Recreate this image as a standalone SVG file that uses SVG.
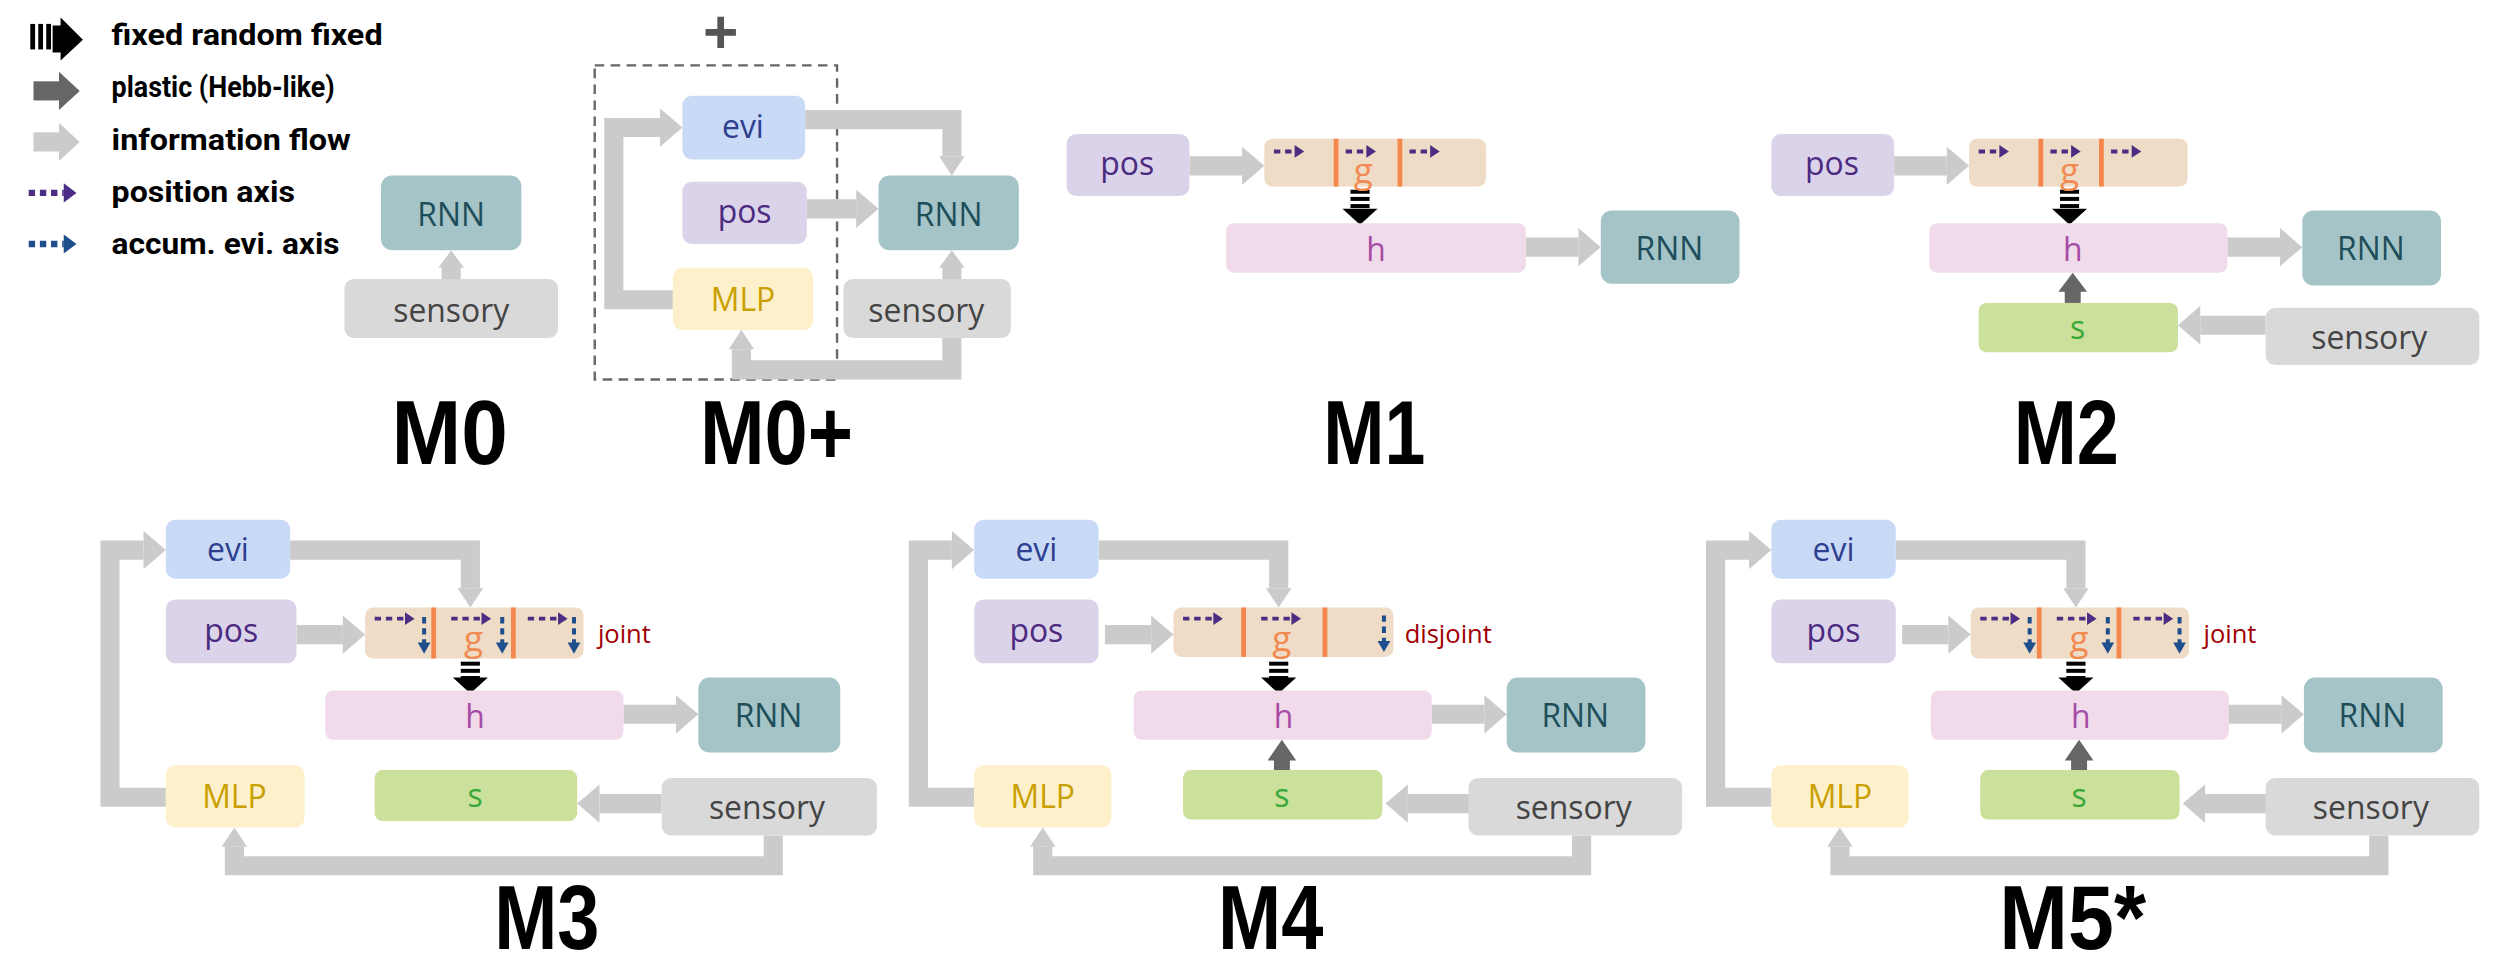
<svg xmlns="http://www.w3.org/2000/svg" width="2500" height="966" viewBox="0 0 2500 966">
<defs>
<style>
.nt{font-family:"Open Sans","Liberation Sans",sans-serif;font-size:20px;text-anchor:middle;dominant-baseline:central}
.gt{font-size:22px}
.lg{font-family:"Roboto","Liberation Sans",sans-serif;font-weight:bold;font-size:18px}
.big{font-family:"Liberation Sans",sans-serif;font-weight:bold;font-size:57px;text-anchor:middle}
.fl{fill:none;stroke:#cbcbcb;stroke-width:12}
.fh{fill:#cbcbcb}
.pl{fill:none;stroke:#666;stroke-width:10}
.ph{fill:#666}
.pa{stroke:#4b2e83;stroke-width:2.5;stroke-dasharray:4 3;fill:none}
.pah{fill:#4b2e83}
.ba{stroke:#1f4e8c;stroke-width:2.5;stroke-dasharray:4 3;fill:none}
.bah{fill:#1f4e8c}
.div{stroke:#f4874b;stroke-width:3}
.lab{font-family:"Open Sans","Liberation Sans",sans-serif;font-size:16px;fill:#a00000;dominant-baseline:central}
</style>
</defs>
<rect width="2500" height="966" fill="#fff"/>
<g transform="scale(1.5944)">
<g id="legend">
<rect x="19" y="15" width="3" height="16" fill="#000"/><rect x="24" y="15" width="3" height="16" fill="#000"/><rect x="29" y="15" width="3" height="16" fill="#000"/>
<polygon points="33,16 38,16 38,11 52,25 38,38 38,33 33,33" fill="#000"/>
<rect x="21" y="51" width="16" height="12" fill="#666"/><polygon points="37,45 50,57 37,69" fill="#666"/>
<rect x="21" y="83" width="16" height="12" fill="#cbcbcb"/><polygon points="37,77 50,89 37,101" fill="#cbcbcb"/>
<line x1="18" y1="121" x2="40" y2="121" stroke="#4b2e83" stroke-width="4" stroke-dasharray="4 3"/><polygon points="40,115 48,121 40,127" fill="#4b2e83"/>
<line x1="18" y1="153" x2="40" y2="153" stroke="#1f4e8c" stroke-width="4" stroke-dasharray="4 3"/><polygon points="40,147 48,153 40,159" fill="#1f4e8c"/>
<text class="lg" x="70" y="28" textLength="170" lengthAdjust="spacingAndGlyphs">fixed random fixed</text>
<text class="lg" x="70" y="61" textLength="140" lengthAdjust="spacingAndGlyphs">plastic (Hebb-like)</text>
<text class="lg" x="70" y="94" textLength="150" lengthAdjust="spacingAndGlyphs">information flow</text>
<text class="lg" x="70" y="127" textLength="115" lengthAdjust="spacingAndGlyphs">position axis</text>
<text class="lg" x="70" y="159" textLength="143" lengthAdjust="spacingAndGlyphs">accum. evi. axis</text>
</g>

<!-- M0 -->
<g id="m0">
<g id="m0-conn"><path class="fl" d="M283,175 V167"/><polygon class="fh" points="275,168 283,157 291,168"/></g>
<g id="m0-rnn"><rect x="239" y="110" width="88" height="47" rx="7" fill="#a5c4c7"/><text class="nt" x="283" y="134" fill="#1d4e5a">RNN</text></g>
<g id="m0-sensory"><rect x="216" y="175" width="134" height="37" rx="6" fill="#d9d9d9"/><text class="nt" x="283" y="194" fill="#444">sensory</text></g>
<text class="big" x="282" y="291" textLength="73" lengthAdjust="spacingAndGlyphs">M0</text>
</g>

<!-- M0+ -->
<g id="m0plus">
<text x="452" y="33" font-family="Liberation Sans,sans-serif" font-weight="bold" font-size="38" fill="#555" text-anchor="middle">+</text>
<rect x="373" y="41" width="152" height="197" fill="none" stroke="#666" stroke-width="1.5" stroke-dasharray="6 4"/>
<g id="m0p-conn">
<path class="fl" d="M505,75 H597 V98"/><polygon class="fh" points="589,98 597,110 605,98"/>
<path class="fl" d="M506,131 H537"/><polygon class="fh" points="537,119 551,131 537,143"/>
<path class="fl" d="M422,188 H385 V80 H414"/><polygon class="fh" points="414,68 428,80 414,92"/>
<path class="fl" d="M597,212 V232 H465 V219"/><polygon class="fh" points="457,219 465,207 473,219"/>
<path class="fl" d="M597,175 V167"/><polygon class="fh" points="589,168 597,157 605,168"/>
</g>
<g id="m0p-evi"><rect x="428" y="60" width="77" height="40" rx="6" fill="#c9daf7"/><text class="nt" x="466" y="79" fill="#2e3f8f">evi</text></g>
<g id="m0p-pos"><rect x="428" y="114" width="78" height="39" rx="6" fill="#dbd3e9"/><text class="nt" x="467" y="132" fill="#4b2a7f">pos</text></g>
<g id="m0p-mlp"><rect x="422" y="168" width="88" height="39" rx="6" fill="#fff0cc"/><text class="nt" x="466" y="187" fill="#c9a000">MLP</text></g>
<g id="m0p-rnn"><rect x="551" y="110" width="88" height="47" rx="7" fill="#a5c4c7"/><text class="nt" x="595" y="134" fill="#1d4e5a">RNN</text></g>
<g id="m0p-sensory"><rect x="529" y="175" width="105" height="37" rx="6" fill="#d9d9d9"/><text class="nt" x="581" y="194" fill="#444">sensory</text></g>
<text class="big" x="487" y="291" textLength="96" lengthAdjust="spacingAndGlyphs">M0+</text>
</g>

<!-- M1 -->
<g id="m1">
<g id="m1-conn">
<path class="fl" d="M746,104 H779"/><polygon class="fh" points="779,92 793,104 779,116"/>
<path class="fl" d="M957,155 H990"/><polygon class="fh" points="990,143 1004,155 990,167"/>
<rect x="847" y="119" width="12" height="2.5"/><rect x="847" y="123.5" width="12" height="2.5"/><rect x="847" y="128" width="12" height="2.5"/><polygon points="842,131 864,131 853,141"/>
</g>
<g id="m1-pos"><rect x="669" y="84" width="77" height="39" rx="6" fill="#dbd3e9"/><text class="nt" x="707" y="102" fill="#4b2a7f">pos</text></g>
<g id="m1-g"><rect x="793" y="87" width="139" height="30" rx="5" fill="#efdcc6"/><line class="div" x1="838" y1="87" x2="838" y2="117"/><line class="div" x1="878" y1="87" x2="878" y2="117"/><text class="nt gt" x="855" y="106" fill="#f08a50">g</text>
<path class="pa" d="M799,95 H813"/><polygon class="pah" points="812,91 818,95 812,99"/>
<path class="pa" d="M844,95 H858"/><polygon class="pah" points="857,91 863,95 857,99"/>
<path class="pa" d="M884,95 H898"/><polygon class="pah" points="897,91 903,95 897,99"/></g>
<g id="m1-h"><rect x="769" y="140" width="188" height="31" rx="5" fill="#f1dbea"/><text class="nt" x="863" y="156" fill="#a64ca6">h</text></g>
<g id="m1-rnn"><rect x="1004" y="132" width="87" height="46" rx="7" fill="#a5c4c7"/><text class="nt" x="1047" y="155" fill="#1d4e5a">RNN</text></g>
<text class="big" x="862" y="291" textLength="64" lengthAdjust="spacingAndGlyphs">M1</text>
</g>

<!-- M2 -->
<g id="m2">
<g id="m2-conn">
<path class="fl" d="M1188,104 H1221"/><polygon class="fh" points="1221,92 1235,104 1221,116"/>
<path class="fl" d="M1397,155 H1430"/><polygon class="fh" points="1430,143 1444,155 1430,167"/>
<rect x="1292" y="119" width="12" height="2.5"/><rect x="1292" y="123.5" width="12" height="2.5"/><rect x="1292" y="128" width="12" height="2.5"/><polygon points="1287,131 1309,131 1298,141"/>
<path class="fl" d="M1421,204 H1380"/><polygon class="fh" points="1380,192 1366,204 1380,216"/>
<path class="pl" d="M1300,190 V182"/><polygon class="ph" points="1291,183 1300,171 1309,183"/>
</g>
<g id="m2-pos"><rect x="1111" y="84" width="77" height="39" rx="6" fill="#dbd3e9"/><text class="nt" x="1149" y="102" fill="#4b2a7f">pos</text></g>
<g id="m2-g"><rect x="1235" y="87" width="137" height="30" rx="5" fill="#efdcc6"/><line class="div" x1="1280" y1="87" x2="1280" y2="117"/><line class="div" x1="1318" y1="87" x2="1318" y2="117"/><text class="nt gt" x="1298" y="106" fill="#f08a50">g</text>
<path class="pa" d="M1241,95 H1255"/><polygon class="pah" points="1254,91 1260,95 1254,99"/>
<path class="pa" d="M1286,95 H1300"/><polygon class="pah" points="1299,91 1305,95 1299,99"/>
<path class="pa" d="M1324,95 H1338"/><polygon class="pah" points="1337,91 1343,95 1337,99"/></g>
<g id="m2-h"><rect x="1210" y="140" width="187" height="31" rx="5" fill="#f1dbea"/><text class="nt" x="1300" y="156" fill="#a64ca6">h</text></g>
<g id="m2-rnn"><rect x="1444" y="132" width="87" height="47" rx="7" fill="#a5c4c7"/><text class="nt" x="1487" y="155" fill="#1d4e5a">RNN</text></g>
<g id="m2-s"><rect x="1241" y="190" width="125" height="31" rx="5" fill="#cbe09b"/><text class="nt" x="1303" y="205" fill="#3aa83a">s</text></g>
<g id="m2-sensory"><rect x="1421" y="193" width="134" height="36" rx="6" fill="#d9d9d9"/><text class="nt" x="1486" y="211" fill="#444">sensory</text></g>
<text class="big" x="1296" y="291" textLength="66" lengthAdjust="spacingAndGlyphs">M2</text>
</g>

<!-- M3 -->
<g id="m3">
<g id="m3-conn">
<path class="fl" d="M182,345 H295 V369"/><polygon class="fh" points="287,369 295,381 303,369"/>
<path class="fl" d="M104,500 H69 V345 H90"/><polygon class="fh" points="90,333 104,345 90,357"/>
<path class="fl" d="M485,524 V543 H147 V531"/><polygon class="fh" points="139,531 147,519 155,531"/>
<path class="fl" d="M186,398 H215"/><polygon class="fh" points="215,386 229,398 215,410"/>
<path class="fl" d="M391,448 H424"/><polygon class="fh" points="424,436 438,448 424,460"/>
<path class="fl" d="M415,504 H376"/><polygon class="fh" points="376,492 362,504 376,516"/>
<rect x="289" y="415" width="12" height="2.5"/><rect x="289" y="419.5" width="12" height="2.5"/><rect x="289" y="424" width="12" height="2.5"/><polygon points="284,425 306,425 295,435"/>
</g>
<g id="m3-evi"><rect x="104" y="326" width="78" height="37" rx="6" fill="#c9daf7"/><text class="nt" x="143" y="344" fill="#2e3f8f">evi</text></g>
<g id="m3-pos"><rect x="104" y="376" width="82" height="40" rx="6" fill="#dbd3e9"/><text class="nt" x="145" y="395" fill="#4b2a7f">pos</text></g>
<g id="m3-g"><rect x="229" y="381" width="137" height="32" rx="5" fill="#efdcc6"/><line class="div" x1="272" y1="381" x2="272" y2="413"/><line class="div" x1="322" y1="381" x2="322" y2="413"/><text class="nt gt" x="297" y="400" fill="#f08a50">g</text>
<path class="pa" d="M235,388 H255"/><polygon class="pah" points="254,384 260,388 254,392"/>
<path class="pa" d="M283,388 H303"/><polygon class="pah" points="302,384 308,388 302,392"/>
<path class="pa" d="M331,388 H351"/><polygon class="pah" points="350,384 356,388 350,392"/>
<path class="ba" d="M266,387 V404"/><polygon class="bah" points="262,403 266,410 270,403"/>
<path class="ba" d="M315,387 V404"/><polygon class="bah" points="311,403 315,410 319,403"/>
<path class="ba" d="M360,387 V404"/><polygon class="bah" points="356,403 360,410 364,403"/></g>
<text class="lab" x="375" y="397">joint</text>
<g id="m3-h"><rect x="204" y="433" width="187" height="31" rx="5" fill="#f1dbea"/><text class="nt" x="298" y="449" fill="#a64ca6">h</text></g>
<g id="m3-rnn"><rect x="438" y="425" width="89" height="47" rx="7" fill="#a5c4c7"/><text class="nt" x="482" y="448" fill="#1d4e5a">RNN</text></g>
<g id="m3-mlp"><rect x="104" y="480" width="87" height="39" rx="6" fill="#fff0cc"/><text class="nt" x="147" y="499" fill="#c9a000">MLP</text></g>
<g id="m3-s"><rect x="235" y="483" width="127" height="32" rx="5" fill="#cbe09b"/><text class="nt" x="298" y="498" fill="#3aa83a">s</text></g>
<g id="m3-sensory"><rect x="415" y="488" width="135" height="36" rx="6" fill="#d9d9d9"/><text class="nt" x="481" y="506" fill="#444">sensory</text></g>
<text class="big" x="343" y="595" textLength="66" lengthAdjust="spacingAndGlyphs">M3</text>
</g>

<!-- M4 -->
<g id="m4" transform="translate(507,0)">
<g id="m4-conn">
<path class="fl" d="M182,345 H295 V369"/><polygon class="fh" points="287,369 295,381 303,369"/>
<path class="fl" d="M104,500 H69 V345 H90"/><polygon class="fh" points="90,333 104,345 90,357"/>
<path class="fl" d="M485,524 V543 H147 V531"/><polygon class="fh" points="139,531 147,519 155,531"/>
<path class="fl" d="M186,398 H215"/><polygon class="fh" points="215,386 229,398 215,410"/>
<path class="fl" d="M391,448 H424"/><polygon class="fh" points="424,436 438,448 424,460"/>
<path class="fl" d="M415,504 H376"/><polygon class="fh" points="376,492 362,504 376,516"/>
<rect x="289" y="415" width="12" height="2.5"/><rect x="289" y="419.5" width="12" height="2.5"/><rect x="289" y="424" width="12" height="2.5"/><polygon points="284,425 306,425 295,435"/>
<path class="pl" d="M297,483 V476"/><polygon class="ph" points="288,477 297,464 306,477"/>
</g>
<g id="m4-evi"><rect x="104" y="326" width="78" height="37" rx="6" fill="#c9daf7"/><text class="nt" x="143" y="344" fill="#2e3f8f">evi</text></g>
<g id="m4-pos"><rect x="104" y="376" width="78" height="40" rx="6" fill="#dbd3e9"/><text class="nt" x="143" y="395" fill="#4b2a7f">pos</text></g>
<g id="m4-g"><rect x="229" y="381" width="138" height="31" rx="5" fill="#efdcc6"/><line class="div" x1="273" y1="381" x2="273" y2="412"/><line class="div" x1="324" y1="381" x2="324" y2="412"/><text class="nt gt" x="297" y="400" fill="#f08a50">g</text>
<path class="pa" d="M235,388 H255"/><polygon class="pah" points="254,384 260,388 254,392"/>
<path class="pa" d="M284,388 H304"/><polygon class="pah" points="303,384 309,388 303,392"/>
<path class="ba" d="M361,386 V403"/><polygon class="bah" points="357,402 361,409 365,402"/></g>
<text class="lab" x="374" y="397">disjoint</text>
<g id="m4-h"><rect x="204" y="433" width="187" height="31" rx="5" fill="#f1dbea"/><text class="nt" x="298" y="449" fill="#a64ca6">h</text></g>
<g id="m4-rnn"><rect x="438" y="425" width="87" height="47" rx="7" fill="#a5c4c7"/><text class="nt" x="481" y="448" fill="#1d4e5a">RNN</text></g>
<g id="m4-mlp"><rect x="104" y="480" width="86" height="39" rx="6" fill="#fff0cc"/><text class="nt" x="147" y="499" fill="#c9a000">MLP</text></g>
<g id="m4-s"><rect x="235" y="483" width="125" height="31" rx="5" fill="#cbe09b"/><text class="nt" x="297" y="498" fill="#3aa83a">s</text></g>
<g id="m4-sensory"><rect x="414" y="488" width="134" height="36" rx="6" fill="#d9d9d9"/><text class="nt" x="480" y="506" fill="#444">sensory</text></g>
<text class="big" x="290" y="595" textLength="66" lengthAdjust="spacingAndGlyphs">M4</text>
</g>

<!-- M5* -->
<g id="m5" transform="translate(1007,0)">
<g id="m5-conn">
<path class="fl" d="M182,345 H295 V369"/><polygon class="fh" points="287,369 295,381 303,369"/>
<path class="fl" d="M104,500 H69 V345 H90"/><polygon class="fh" points="90,333 104,345 90,357"/>
<path class="fl" d="M485,524 V543 H147 V531"/><polygon class="fh" points="139,531 147,519 155,531"/>
<path class="fl" d="M186,398 H215"/><polygon class="fh" points="215,386 229,398 215,410"/>
<path class="fl" d="M391,448 H424"/><polygon class="fh" points="424,436 438,448 424,460"/>
<path class="fl" d="M415,504 H376"/><polygon class="fh" points="376,492 362,504 376,516"/>
<rect x="289" y="415" width="12" height="2.5"/><rect x="289" y="419.5" width="12" height="2.5"/><rect x="289" y="424" width="12" height="2.5"/><polygon points="284,425 306,425 295,435"/>
<path class="pl" d="M297,483 V476"/><polygon class="ph" points="288,477 297,464 306,477"/>
</g>
<g id="m5-evi"><rect x="104" y="326" width="78" height="37" rx="6" fill="#c9daf7"/><text class="nt" x="143" y="344" fill="#2e3f8f">evi</text></g>
<g id="m5-pos"><rect x="104" y="376" width="78" height="40" rx="6" fill="#dbd3e9"/><text class="nt" x="143" y="395" fill="#4b2a7f">pos</text></g>
<g id="m5-g"><rect x="229" y="381" width="137" height="32" rx="5" fill="#efdcc6"/><line class="div" x1="272" y1="381" x2="272" y2="413"/><line class="div" x1="322" y1="381" x2="322" y2="413"/><text class="nt gt" x="297" y="400" fill="#f08a50">g</text>
<path class="pa" d="M235,388 H255"/><polygon class="pah" points="254,384 260,388 254,392"/>
<path class="pa" d="M283,388 H303"/><polygon class="pah" points="302,384 308,388 302,392"/>
<path class="pa" d="M331,388 H351"/><polygon class="pah" points="350,384 356,388 350,392"/>
<path class="ba" d="M266,387 V404"/><polygon class="bah" points="262,403 266,410 270,403"/>
<path class="ba" d="M315,387 V404"/><polygon class="bah" points="311,403 315,410 319,403"/>
<path class="ba" d="M360,387 V404"/><polygon class="bah" points="356,403 360,410 364,403"/></g>
<text class="lab" x="375" y="397">joint</text>
<g id="m5-h"><rect x="204" y="433" width="187" height="31" rx="5" fill="#f1dbea"/><text class="nt" x="298" y="449" fill="#a64ca6">h</text></g>
<g id="m5-rnn"><rect x="438" y="425" width="87" height="47" rx="7" fill="#a5c4c7"/><text class="nt" x="481" y="448" fill="#1d4e5a">RNN</text></g>
<g id="m5-mlp"><rect x="104" y="480" width="86" height="39" rx="6" fill="#fff0cc"/><text class="nt" x="147" y="499" fill="#c9a000">MLP</text></g>
<g id="m5-s"><rect x="235" y="483" width="125" height="31" rx="5" fill="#cbe09b"/><text class="nt" x="297" y="498" fill="#3aa83a">s</text></g>
<g id="m5-sensory"><rect x="414" y="488" width="134" height="36" rx="6" fill="#d9d9d9"/><text class="nt" x="480" y="506" fill="#444">sensory</text></g>
<text class="big" x="293" y="595" textLength="92" lengthAdjust="spacingAndGlyphs">M5*</text>
</g>
</g>
</svg>
